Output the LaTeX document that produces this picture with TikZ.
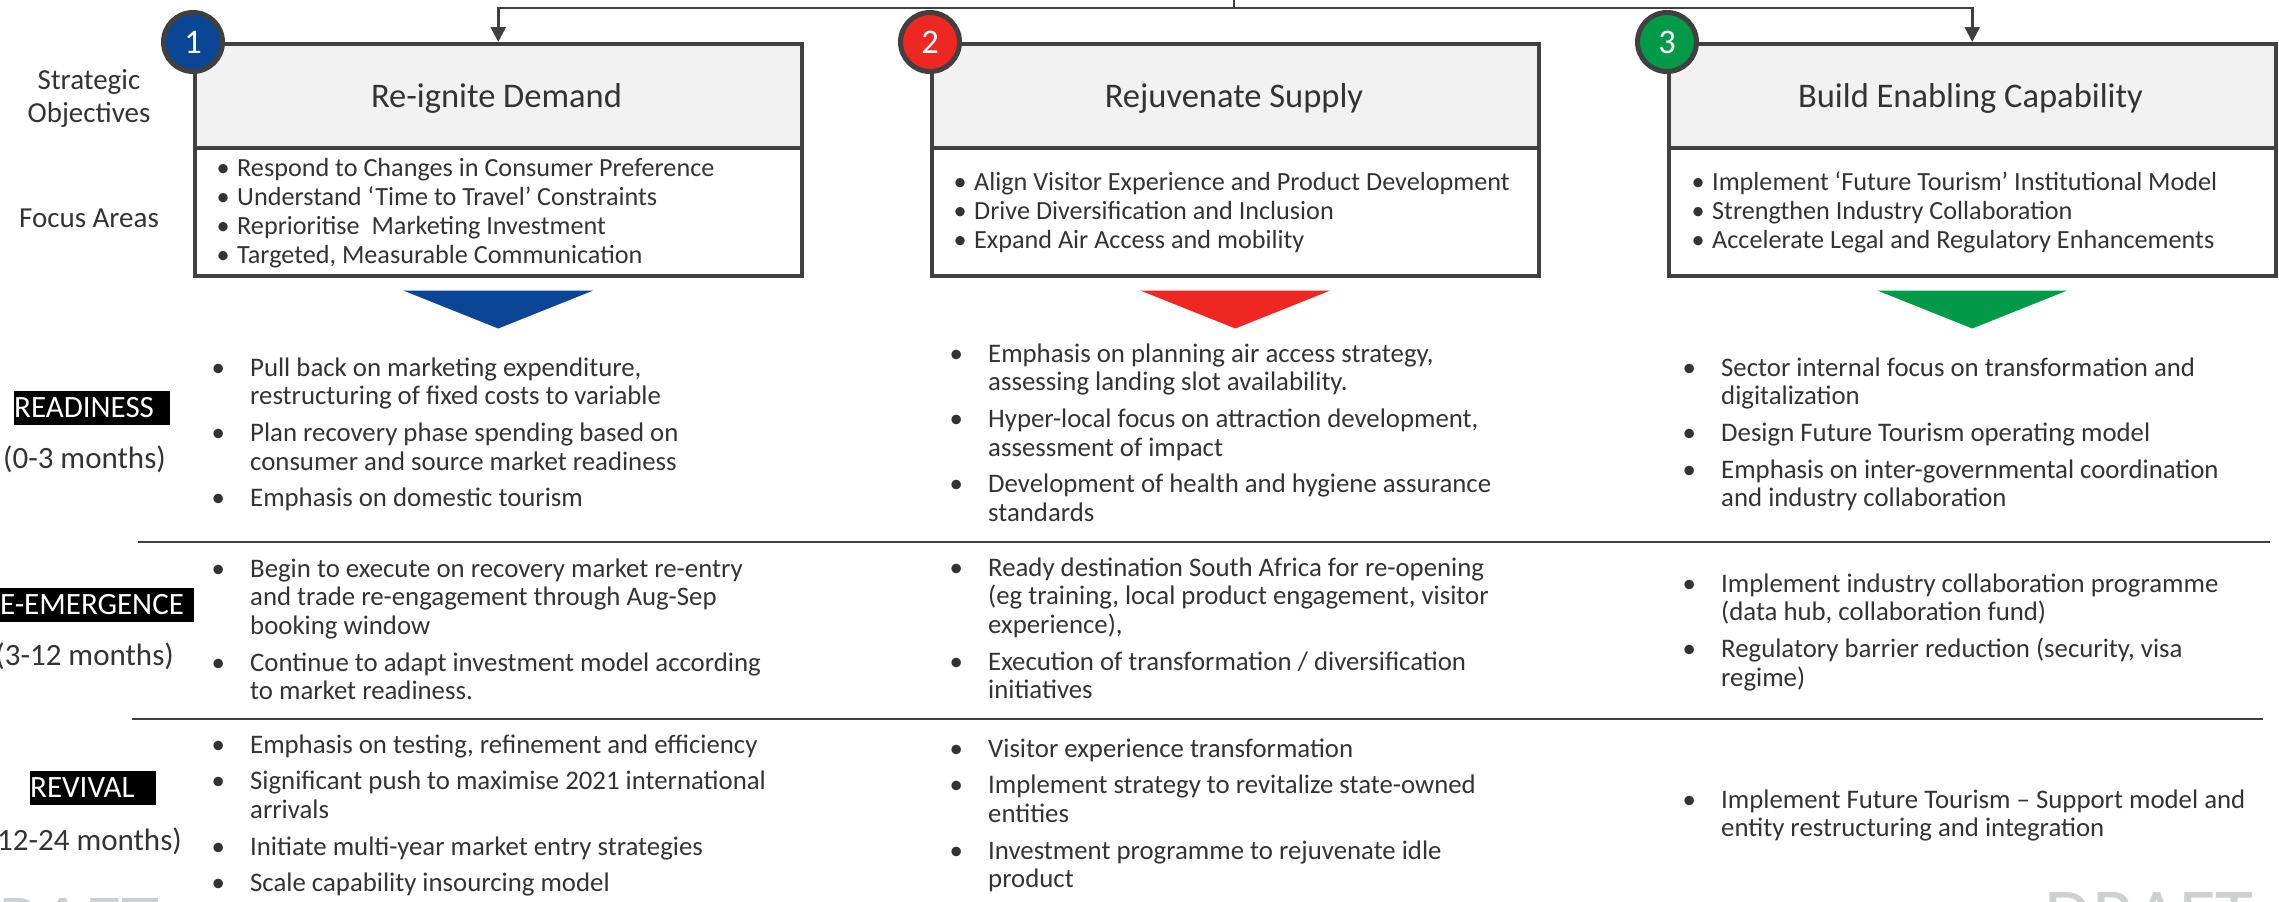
\documentclass[tikz,border=0pt]{standalone}
\usepackage{fontspec}
\setmainfont{Carlito}
\usetikzlibrary{arrows.meta}
\definecolor{ink}{HTML}{333333}
\definecolor{frame}{HTML}{404040}
\definecolor{hdr}{HTML}{F2F2F2}
\definecolor{cblue}{HTML}{0B4596}
\definecolor{cred}{HTML}{EE2722}
\definecolor{cgreen}{HTML}{009A48}
\definecolor{wm}{HTML}{CDCFD0}
\newcommand{\rb}{\makebox[42pt][l]{\makebox[20pt]{\textbullet}}}
\newcommand{\fb}{\makebox[18pt][l]{\makebox[8pt]{\textbullet}}}
\begin{document}
\begin{tikzpicture}[x=1pt,y=-1pt,
 hdrbox/.style={draw=frame, line width=3.5pt, fill=hdr, minimum width=607pt, minimum height=104pt, anchor=north west, inner sep=0pt},
 bodybox/.style={draw=frame, line width=3.5pt, fill=white, minimum width=607pt, minimum height=128pt, anchor=north west, inner sep=0pt},
 title/.style={font=\fontsize{34.5}{40}\selectfont, text=ink, anchor=base, inner sep=0pt},
 focus/.style={font=\fontsize{26.2}{29}\selectfont, text=ink, anchor=base west, inner sep=0pt},
 rowtxt/.style={font=\fontsize{26.8}{28.7}\selectfont, text=ink, anchor=base west, inner sep=0pt},
 numc/.style={circle, draw=frame, line width=5pt, minimum size=59pt, inner sep=0pt, text=white, font=\fontsize{34.5}{40}\selectfont},
 side/.style={font=\fontsize{29}{33}\selectfont, text=ink, inner sep=0pt, anchor=base},
 phase/.style={fill=black, text=white, font=\fontsize{31}{31}\selectfont, inner xsep=0pt, inner ysep=0pt, minimum height=34pt, align=left, anchor=west},
 months/.style={font=\fontsize{31}{31}\selectfont, text=ink, inner sep=0pt, anchor=base east},
 conn/.style={draw=frame, line width=2.5pt, -{Triangle[length=15pt,width=15pt]}},
 sepline/.style={draw=frame, line width=2.5pt},
 wmark/.style={font=\fontsize{78}{78}\selectfont, text=wm, inner sep=0pt}
]
\useasboundingbox (0,0) rectangle (2279,902);
\clip (0,0) rectangle (2279,902);

% watermarks
\node[wmark, anchor=base west] (wmr) at (2044,942) {DRAFT};
\node[wmark, anchor=base east] (wml) at (160,948) {DRAFT};

% boxes
\node[bodybox] (f1) at (193,146) {};
\node[bodybox] (f2) at (930,146) {};
\node[bodybox] (f3) at (1667,146) {};
\node[hdrbox] (h1) at (193,42) {};
\node[hdrbox] (h2) at (930,42) {};
\node[hdrbox] (h3) at (1667,42) {};

% top connector
\coordinate (top) at (1234,0);
\draw[conn] (top) -- ++(0,8) -| (h1.north);
\draw[conn] (top) -- ++(0,8) -| (h3.north);

% numbered circles
\node[numc, fill=cblue] (n1) at (h1.north west) {1};
\node[numc, fill=cred] (n2) at (h2.north west) {2};
\node[numc, fill=cgreen] (n3) at (h3.north west) {3};

% titles
\node[title] (t1) at (496.5,107) {Re-ignite Demand};
\node[title] (t2) at (1234,107) {Rejuvenate Supply};
\node[title] (t3) at (1970.5,107) {Build Enabling Capability};

% focus areas
\node[focus] (fa1) at (219,176) {\begin{tabular}[t]{@{}l@{}}
\fb Respond to Changes in Consumer Preference\\
\fb Understand ‘Time to Travel’ Constraints\\
\fb Reprioritise\ \ Marketing Investment\\
\fb Targeted, Measurable Communication
\end{tabular}};
\node[focus] (fa2) at (956,190) {\begin{tabular}[t]{@{}l@{}}
\fb Align Visitor Experience and Product Development\\
\fb Drive Diversification and Inclusion\\
\fb Expand Air Access and mobility
\end{tabular}};
\node[focus] (fa3) at (1694,190) {\begin{tabular}[t]{@{}l@{}}
\fb Implement ‘Future Tourism’ Institutional Model\\
\fb Strengthen Industry Collaboration\\
\fb Accelerate Legal and Regulatory Enhancements
\end{tabular}};

% arrows (triangles)
\fill[cblue] ([xshift=-95pt,yshift=-13pt]f1.south) -- ([xshift=95pt,yshift=-13pt]f1.south) -- ([yshift=-51pt]f1.south) -- cycle;
\fill[cred] ([xshift=-95pt,yshift=-13pt]f2.south) -- ([xshift=95pt,yshift=-13pt]f2.south) -- ([yshift=-51pt]f2.south) -- cycle;
\fill[cgreen] ([xshift=-95pt,yshift=-13pt]f3.south) -- ([xshift=95pt,yshift=-13pt]f3.south) -- ([yshift=-51pt]f3.south) -- cycle;

% side labels
\node[side] (so1) at (89,89) {Strategic};
\node[side] (so2) at (89,122) {Objectives};
\node[side] (fo) at (89,227) {Focus Areas};

% phase labels
\node[phase, text width=156pt] (p1) at (14,408) {READINESS};
\node[months] (m1) at (166,468) {(0-3 months)};
\node[phase, text width=211pt] (p2) at (-17,605) {RE-EMERGENCE};
\node[months] (m2) at (174,665) {(3-12 months)};
\node[phase, text width=126pt] (p3) at (30,787.5) {REVIVAL};
\node[months] (m3) at (182,850) {(12-24 months)};

% separators
\draw[sepline] (138,542) -- (2270,542);
\draw[sepline] (132,719) -- (2263,719);

% column 1
\node[rowtxt] (r11) at (208,376) {\begin{tabular}[t]{@{}l@{}l@{}}
\rb & Pull back on marketing expenditure,\\
 & restructuring of fixed costs to variable\\[8pt]
\rb & Plan recovery phase spending based on\\
 & consumer and source market readiness\\[8pt]
\rb & Emphasis on domestic tourism
\end{tabular}};
\node[rowtxt] (r12) at (208,577) {\begin{tabular}[t]{@{}l@{}l@{}}
\rb & Begin to execute on recovery market re-entry\\
 & and trade re-engagement through Aug-Sep\\
 & booking window\\[8pt]
\rb & Continue to adapt investment model according\\
 & to market readiness.
\end{tabular}};
\node[rowtxt] (r13) at (208,753) {\begin{tabular}[t]{@{}l@{}l@{}}
\rb & Emphasis on testing, refinement and efficiency\\[8pt]
\rb & Significant push to maximise 2021 international\\
 & arrivals\\[8pt]
\rb & Initiate multi-year market entry strategies\\[8pt]
\rb & Scale capability insourcing model
\end{tabular}};

% column 2
\node[rowtxt] (r21) at (946,362) {\begin{tabular}[t]{@{}l@{}l@{}}
\rb & Emphasis on planning air access strategy,\\
 & assessing landing slot availability.\\[8pt]
\rb & Hyper-local focus on attraction development,\\
 & assessment of impact\\[8pt]
\rb & Development of health and hygiene assurance\\
 & standards
\end{tabular}};
\node[rowtxt] (r22) at (946,576) {\begin{tabular}[t]{@{}l@{}l@{}}
\rb & Ready destination South Africa for re-opening\\
 & (eg training, local product engagement, visitor\\
 & experience),\\[8pt]
\rb & Execution of transformation / diversification\\
 & initiatives
\end{tabular}};
\node[rowtxt] (r23) at (946,757) {\begin{tabular}[t]{@{}l@{}l@{}}
\rb & Visitor experience transformation\\[8pt]
\rb & Implement strategy to revitalize state-owned\\
 & entities\\[8pt]
\rb & Investment programme to rejuvenate idle\\
 & product
\end{tabular}};

% column 3
\node[rowtxt] (r31) at (1679,376) {\begin{tabular}[t]{@{}l@{}l@{}}
\rb & Sector internal focus on transformation and\\
 & digitalization\\[8pt]
\rb & Design Future Tourism operating model\\[8pt]
\rb & Emphasis on inter-governmental coordination\\
 & and industry collaboration
\end{tabular}};
\node[rowtxt] (r32) at (1679,592) {\begin{tabular}[t]{@{}l@{}l@{}}
\rb & Implement industry collaboration programme\\
 & (data hub, collaboration fund)\\[8pt]
\rb & Regulatory barrier reduction (security, visa\\
 & regime)
\end{tabular}};
\node[rowtxt] (r33) at (1679,808) {\begin{tabular}[t]{@{}l@{}l@{}}
\rb & Implement Future Tourism – Support model and\\
 & entity restructuring and integration
\end{tabular}};
\end{tikzpicture}
\end{document}
